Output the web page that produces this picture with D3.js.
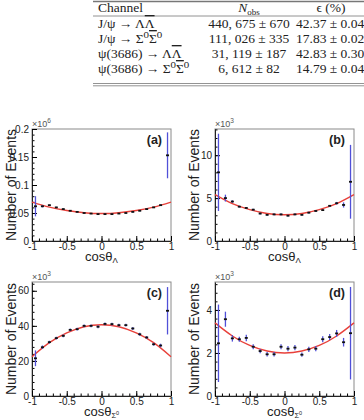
<!DOCTYPE html>
<html>
<head>
<meta charset="utf-8">
<script src="https://d3js.org/d3.v7.min.js"></script>
<style>
body { margin: 0; background: #fff; }
svg text { font-family: "Liberation Sans", Arial, sans-serif; fill: #222; }
.tbl text { font-family: "Liberation Serif", "DejaVu Serif", serif; font-size: 13.5px; }
</style>
</head>
<body>
<div id="container"></div>
<script>
// table contents (a combining macron marks an antiparticle bar)
var channels = ["J/ψ → ΛΛ\u0304", "J/ψ → Σ⁰Σ\u0304⁰", "ψ(3686) → ΛΛ\u0304", "ψ(3686) → Σ⁰Σ\u0304⁰"];
var nobs = ["440, 675 ± 670", "111, 026 ± 335", "31, 119 ± 187", "6, 612 ± 82"];
var effs = ["42.37 ± 0.04", "17.83 ± 0.02", "42.83 ± 0.30", "14.79 ± 0.04"];

// bin centres of cos(theta)
var binCenters = [-0.95, -0.85, -0.75, -0.65, -0.55, -0.45, -0.35, -0.25, -0.15, -0.05,
                  0.05, 0.15, 0.25, 0.35, 0.45, 0.55, 0.65, 0.75, 0.85, 0.95];
var xTicks = [-1, -0.5, 0, 0.5, 1];

// (a) J/psi -> Lambda Lambdabar   (x10^6)
var valuesA = [0.062, 0.062, 0.064, 0.060, 0.057, 0.054, 0.052, 0.050, 0.049, 0.048,
               0.048, 0.048, 0.049, 0.050, 0.052, 0.054, 0.057, 0.060, 0.064, 0.153];
var errorsA = [0.018, 0.002, 0.001, 0.001, 0.001, 0.001, 0.001, 0.001, 0.001, 0.001,
               0.001, 0.001, 0.001, 0.001, 0.001, 0.001, 0.001, 0.001, 0.001, 0.041];
// (b) psi(3686) -> Lambda Lambdabar  (x10^3)
var valuesB = [8.0, 5.0, 4.6, 4.0, 3.85, 3.65, 3.2, 3.05, 3.1, 3.1,
               2.95, 3.1, 3.05, 3.3, 3.5, 3.6, 4.1, 4.4, 4.2, 6.9];
var errorsB = [4.5, 0.4, 0.15, 0.1, 0.1, 0.1, 0.1, 0.1, 0.1, 0.1,
               0.1, 0.1, 0.1, 0.1, 0.1, 0.1, 0.1, 0.15, 0.3, 4.3];
// (c) J/psi -> Sigma0 Sigma0bar  (x10^3)
var valuesC = [21.5, 27.8, 30.7, 33.0, 34.3, 37.7, 38.1, 40.0, 40.0, 39.5,
               41.1, 41.0, 40.4, 40.4, 38.5, 35.2, 33.4, 29.5, 28.8, 48.6];
var errorsC = [4.5, 1.0, 0.8, 0.8, 0.8, 0.8, 0.8, 0.8, 0.8, 0.8,
               0.8, 0.8, 0.8, 0.8, 0.8, 0.8, 0.8, 0.8, 1.0, 13.5];
// (d) psi(3686) -> Sigma0 Sigma0bar  (x10^3)
var valuesD = [2.45, 3.57, 2.68, 2.64, 2.70, 2.29, 2.09, 1.94, 1.94, 2.29,
               2.20, 2.25, 1.92, 2.17, 2.20, 2.64, 2.74, 2.91, 2.50, 2.92];
var errorsD = [1.8, 0.35, 0.15, 0.12, 0.15, 0.12, 0.1, 0.1, 0.1, 0.12,
               0.12, 0.12, 0.1, 0.12, 0.12, 0.14, 0.14, 0.16, 0.2, 2.15];

var fitX = [-1, -0.75, -0.5, -0.25, 0, 0.25, 0.5, 0.75, 1];
var fitA = [0.0695, 0.0605, 0.0545, 0.0505, 0.0490, 0.0505, 0.0545, 0.0605, 0.0695];
var fitB = [5.4, 4.35, 3.65, 3.2, 3.05, 3.2, 3.65, 4.35, 5.4];
var fitC = [22.4, 30.4, 36.0, 39.5, 40.6, 39.5, 36.0, 30.4, 22.4];
var fitD = [3.4, 2.79, 2.35, 2.09, 2.0, 2.09, 2.35, 2.79, 3.4];

var svg = d3.select("#container").append("svg")
  .attr("width", 364)
  .attr("height", 420);

// ---- table ----
var tbl = svg.append("g").attr("class", "tbl");
var tblLeft = 98;
[[1.5, 1.5], [16, 0.8], [83.5, 0.8], [85.8, 0.8]].forEach(function(r) {
  tbl.append("line").attr("x1", tblLeft - 5).attr("x2", 364).attr("y1", r[0]).attr("y2", r[0])
    .attr("stroke", "#777").attr("stroke-width", r[1]);
});

tbl.append("text").attr("x", tblLeft).attr("y", 12).text("Channel");
var nh = tbl.append("text").attr("x", 249).attr("y", 12).attr("text-anchor", "middle");
nh.append("tspan").attr("font-style", "italic").text("N");
nh.append("tspan").attr("font-size", "9px").attr("dy", 2.5).text("obs");
tbl.append("text").attr("x", 331).attr("y", 12).attr("text-anchor", "middle").text("ϵ (%)");

// channel labels: letters followed by a combining macron get an overline
channels.forEach(function(label, i) {
  var t = tbl.append("text").attr("x", tblLeft).attr("y", 28 + i * 15);
  var chars = Array.from(label);
  var buf = "";
  for (var k = 0; k < chars.length; k++) {
    if (chars[k + 1] === "\u0304") {
      if (buf) { t.append("tspan").text(buf); buf = ""; }
      t.append("tspan").style("text-decoration", "overline").text(chars[k]);
      k++;
    } else {
      buf += chars[k];
    }
  }
  if (buf) t.append("tspan").text(buf);
});
tbl.selectAll(".nb").data(nobs).enter().append("text")
  .attr("x", 249).attr("y", function(d, i) { return 28 + i * 15; })
  .attr("text-anchor", "middle")
  .text(function(d) { return d; });
tbl.selectAll(".ef").data(effs).enter().append("text")
  .attr("x", 296).attr("y", function(d, i) { return 28 + i * 15; })
  .text(function(d) { return d; });

// ---- panels ----
var panels = [
  { tag: "(a)", left: 32, top: 129, bottom: 241, ymax: 0.2, major: [0, 0.05, 0.1, 0.15, 0.2], minorStep: 0.01,
    exp: "6", sub: "Λ", values: valuesA, errors: errorsA, fit: fitA },
  { tag: "(b)", left: 215, top: 129, bottom: 241, ymax: 13.05, major: [0, 5, 10], minorStep: 1,
    exp: "3", sub: "Λ", values: valuesB, errors: errorsB, fit: fitB },
  { tag: "(c)", left: 32, top: 282, bottom: 396, ymax: 65, major: [0, 20, 40, 60], minorStep: 4,
    exp: "3", sub: "Σ0", values: valuesC, errors: errorsC, fit: fitC },
  { tag: "(d)", left: 215, top: 282, bottom: 396, ymax: 5.3, major: [0, 2, 4], minorStep: 0.4,
    exp: "3", sub: "Σ0", values: valuesD, errors: errorsD, fit: fitD }
];
var pw = 139;

panels.forEach(function(p) {
  var g = svg.append("g").attr("transform", "translate(" + p.left + "," + p.top + ")");
  var h = p.bottom - p.top;
  var x = d3.scaleLinear().domain([-1, 1]).range([0, pw]);
  var y = d3.scaleLinear().domain([0, p.ymax]).range([h, 0]);

  // frame
  g.append("rect").attr("width", pw).attr("height", h)
    .attr("fill", "none").attr("stroke", "#8a8a8a").attr("stroke-width", 1);

  // minor ticks
  var yMinor = d3.range(0, p.ymax + 1e-9, p.minorStep);
  g.append("g").call(d3.axisLeft(y).tickValues(yMinor).tickSize(-2.5).tickFormat(""))
    .call(function(s) { s.select(".domain").remove(); });
  var xMinor = d3.range(-1, 1.0001, 0.1);
  g.append("g").attr("transform", "translate(0," + h + ")")
    .call(d3.axisBottom(x).tickValues(xMinor).tickSize(-2.5).tickFormat(""))
    .call(function(s) { s.select(".domain").remove(); });

  // major axes
  var ya = g.append("g")
    .call(d3.axisLeft(y).tickValues(p.major).tickSizeInner(-5).tickSizeOuter(0).tickPadding(3)
      .tickFormat(function(d) { return String(+d.toFixed(3)); }));
  var xa = g.append("g").attr("transform", "translate(0," + h + ")")
    .call(d3.axisBottom(x).tickValues(xTicks).tickSizeInner(-5).tickSizeOuter(0).tickPadding(1.5)
      .tickFormat(function(d) { return String(d); }));
  [ya, xa].forEach(function(a) {
    a.selectAll("text").attr("font-size", "10px").attr("fill", "#333")
      .style("font-family", "'Liberation Sans', Arial, sans-serif");
    a.select(".domain").attr("stroke", "#222");
  });

  // exponent
  var ex = g.append("text").attr("x", 0).attr("y", -2).attr("font-size", "9px").style("fill", "#555");
  ex.append("tspan").text("×10");
  ex.append("tspan").attr("font-size", "6.5px").attr("dy", -4).text(p.exp);

  // y title
  g.append("text")
    .attr("transform", "translate(" + (-16) + "," + (h / 2) + ") rotate(-90)")
    .attr("text-anchor", "middle").attr("font-size", "14px")
    .text("Number of Events");

  // x title
  var xt = g.append("text").attr("x", pw / 2).attr("y", h + 19.5)
    .attr("text-anchor", "middle").attr("font-size", "13px");
  xt.append("tspan").text("cosθ");
  if (p.sub === "Λ") {
    xt.append("tspan").attr("font-size", "8px").attr("dy", 2.5).text("Λ");
  } else {
    xt.append("tspan").attr("font-size", "7.5px").attr("dy", 2).text("Σ");
    xt.append("tspan").attr("font-size", "5.5px").attr("dy", -2.5).text("0");
  }

  // tag
  g.append("text").attr("x", pw - 9).attr("y", 14.5).attr("text-anchor", "end")
    .attr("font-size", "12.5px").attr("font-weight", "bold").text(p.tag);

  // fit curve
  var line = d3.line()
    .x(function(d, i) { return x(fitX[i]); })
    .y(function(d) { return y(d); })
    .curve(d3.curveNatural);
  g.append("path").datum(p.fit).attr("d", line)
    .attr("fill", "none").attr("stroke", "#e8403a").attr("stroke-width", 1.4);

  // error bars and points
  g.selectAll(".err").data(p.values).enter().append("line")
    .attr("x1", function(d, i) { return x(binCenters[i]); })
    .attr("x2", function(d, i) { return x(binCenters[i]); })
    .attr("y1", function(d, i) { return y(d - p.errors[i]); })
    .attr("y2", function(d, i) { return y(d + p.errors[i]); })
    .attr("stroke", "#5050d8").attr("stroke-width", 1.3);
  g.selectAll(".pt").data(p.values).enter().append("rect")
    .attr("x", function(d, i) { return x(binCenters[i]) - 1.5; })
    .attr("y", function(d) { return y(d) - 0.9; })
    .attr("width", 3).attr("height", 1.8)
    .attr("fill", "#111");
});
</script>
</body>
</html>
